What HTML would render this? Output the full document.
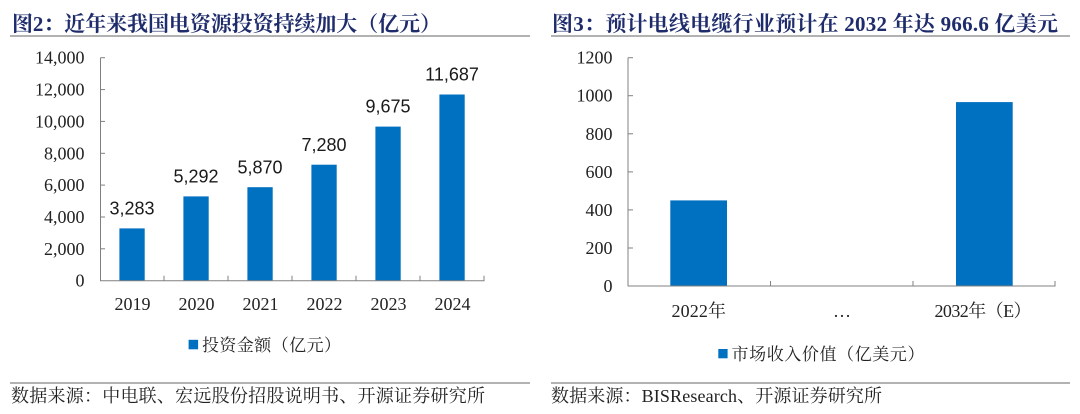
<!DOCTYPE html>
<html>
<head>
<meta charset="utf-8">
<style>
  html, body { margin:0; padding:0; background:#ffffff; }
  body { width:1080px; height:414px; overflow:hidden; }
  svg { display:block; }
  .title { font-family:"Liberation Serif","Noto Serif CJK SC",serif; font-weight:bold; font-size:21px; fill:#1f2c6c; }
  .tick { font-family:"Liberation Serif","Noto Serif CJK SC",serif; font-size:18px; fill:#222222; }
  .lbl { font-family:"Liberation Sans",sans-serif; font-size:18px; fill:#1a1a1a; }
  .leg { font-family:"Liberation Serif","Noto Serif CJK SC",serif; font-size:17px; fill:#222222; }
  .src { font-family:"Liberation Serif","Noto Serif CJK SC",serif; font-size:18px; fill:#222222; }
</style>
</head>
<body>
<svg width="1080" height="414" viewBox="0 0 1080 414" xmlns="http://www.w3.org/2000/svg">
  <rect width="1080" height="414" fill="#ffffff"/>

  <!-- ===== LEFT CHART ===== -->
  <text class="title" x="12" y="31" textLength="429" lengthAdjust="spacing">图2：近年来我国电资源投资持续加大（亿元）</text>
  <line x1="10" y1="36" x2="530" y2="36" stroke="#666" stroke-width="1"/>

  <!-- bars -->
  <g fill="#0070C0">
    <rect x="119.4" y="228.4" width="25.3" height="52.3"/>
    <rect x="183.4" y="196.4" width="25.3" height="84.3"/>
    <rect x="247.4" y="187.2" width="25.3" height="93.5"/>
    <rect x="311.4" y="164.7" width="25.3" height="116.0"/>
    <rect x="375.4" y="126.6" width="25.3" height="154.1"/>
    <rect x="439.4" y="94.5" width="25.3" height="186.2"/>
  </g>

  <!-- axes -->
  <g stroke="#808080" stroke-width="1" fill="none">
    <line x1="100.5" y1="57.7" x2="100.5" y2="281"/>
    <line x1="100" y1="280.7" x2="484.5" y2="280.7"/>
    <line x1="100.5" y1="57.7" x2="105" y2="57.7"/>
    <line x1="100.5" y1="89.6" x2="105" y2="89.6"/>
    <line x1="100.5" y1="121.4" x2="105" y2="121.4"/>
    <line x1="100.5" y1="153.3" x2="105" y2="153.3"/>
    <line x1="100.5" y1="185.1" x2="105" y2="185.1"/>
    <line x1="100.5" y1="217.0" x2="105" y2="217.0"/>
    <line x1="100.5" y1="248.8" x2="105" y2="248.8"/>
    <line x1="164" y1="275.7" x2="164" y2="280.7"/>
    <line x1="228" y1="275.7" x2="228" y2="280.7"/>
    <line x1="292" y1="275.7" x2="292" y2="280.7"/>
    <line x1="356" y1="275.7" x2="356" y2="280.7"/>
    <line x1="420" y1="275.7" x2="420" y2="280.7"/>
    <line x1="484" y1="275.7" x2="484" y2="280.7"/>
  </g>

  <!-- y tick labels -->
  <g class="tick" text-anchor="end">
    <text x="84.5" y="63.7">14,000</text>
    <text x="84.5" y="95.6">12,000</text>
    <text x="84.5" y="127.4">10,000</text>
    <text x="84.5" y="159.3">8,000</text>
    <text x="84.5" y="191.1">6,000</text>
    <text x="84.5" y="223.0">4,000</text>
    <text x="84.5" y="254.8">2,000</text>
    <text x="84.5" y="286.7">0</text>
  </g>

  <!-- x labels -->
  <g class="tick" text-anchor="middle">
    <text x="132.5" y="310">2019</text>
    <text x="196.5" y="310">2020</text>
    <text x="260.5" y="310">2021</text>
    <text x="324.5" y="310">2022</text>
    <text x="388.5" y="310">2023</text>
    <text x="452.5" y="310">2024</text>
  </g>

  <!-- data labels -->
  <g class="lbl" text-anchor="middle">
    <text x="132" y="214.6">3,283</text>
    <text x="196" y="182.6">5,292</text>
    <text x="260" y="173.3">5,870</text>
    <text x="324" y="150.8">7,280</text>
    <text x="388" y="112.7">9,675</text>
    <text x="452" y="80.5">11,687</text>
  </g>

  <!-- legend -->
  <rect x="188.6" y="339.8" width="9.5" height="9.5" fill="#0070C0"/>
  <text class="leg" x="202" y="351" textLength="139" lengthAdjust="spacing">投资金额（亿元）</text>

  <!-- source -->
  <line x1="10" y1="383" x2="530" y2="383" stroke="#666" stroke-width="1"/>
  <text class="src" x="11" y="402" textLength="474" lengthAdjust="spacing">数据来源：中电联、宏远股份招股说明书、开源证券研究所</text>

  <!-- ===== RIGHT CHART ===== -->
  <text class="title" x="552" y="31" textLength="506" lengthAdjust="spacing">图3：预计电线电缆行业预计在 2032 年达 966.6 亿美元</text>
  <line x1="551" y1="36" x2="1070" y2="36" stroke="#666" stroke-width="1"/>

  <g fill="#0070C0">
    <rect x="670.3" y="200.4" width="56.7" height="85.6"/>
    <rect x="956" y="102.1" width="56.7" height="183.9"/>
  </g>

  <g stroke="#808080" stroke-width="1" fill="none">
    <line x1="628" y1="57.7" x2="628" y2="286.3"/>
    <line x1="628" y1="286" x2="1055.5" y2="286"/>
    <line x1="628" y1="57.7" x2="633" y2="57.7"/>
    <line x1="628" y1="95.7" x2="633" y2="95.7"/>
    <line x1="628" y1="133.8" x2="633" y2="133.8"/>
    <line x1="628" y1="171.9" x2="633" y2="171.9"/>
    <line x1="628" y1="209.9" x2="633" y2="209.9"/>
    <line x1="628" y1="248.0" x2="633" y2="248.0"/>
    <line x1="770.5" y1="281" x2="770.5" y2="286"/>
    <line x1="913" y1="281" x2="913" y2="286"/>
    <line x1="1055" y1="281" x2="1055" y2="286"/>
  </g>

  <g class="tick" text-anchor="end">
    <text x="612.5" y="63.7">1200</text>
    <text x="612.5" y="101.7">1000</text>
    <text x="612.5" y="139.8">800</text>
    <text x="612.5" y="177.9">600</text>
    <text x="612.5" y="215.9">400</text>
    <text x="612.5" y="254.0">200</text>
    <text x="612.5" y="292">0</text>
  </g>

  <g class="tick">
    <text x="671.5" y="317" textLength="54.5" lengthAdjust="spacing">2022年</text>
    <text x="842" y="317" text-anchor="middle">…</text>
    <text x="934.5" y="317" textLength="97" lengthAdjust="spacing">2032年（E）</text>
  </g>

  <rect x="718.3" y="349" width="9.3" height="9.3" fill="#0070C0"/>
  <text class="leg" x="731.5" y="360" textLength="193" lengthAdjust="spacing">市场收入价值（亿美元）</text>

  <line x1="551" y1="383" x2="1070" y2="383" stroke="#666" stroke-width="1"/>
  <text class="src" x="551" y="402" textLength="331" lengthAdjust="spacing">数据来源：BISResearch、开源证券研究所</text>
</svg>
</body>
</html>
